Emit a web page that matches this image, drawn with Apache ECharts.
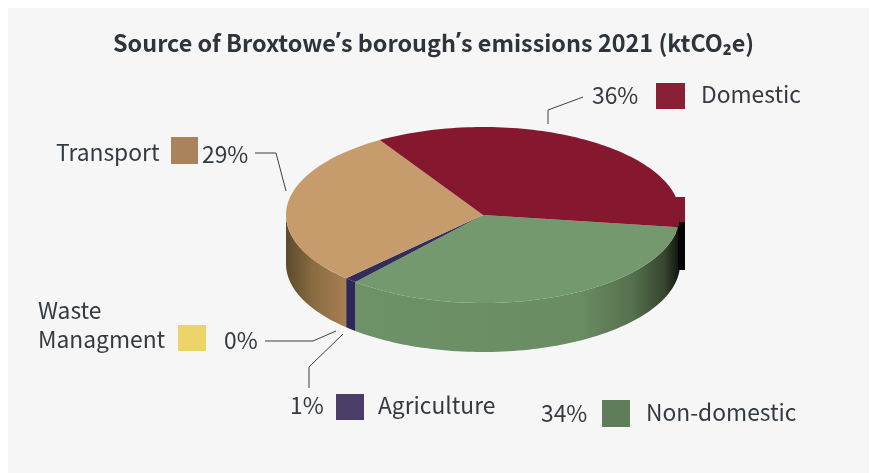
<!DOCTYPE html>
<html>
<head>
<meta charset="utf-8">
<style>
  html, body { margin: 0; padding: 0; background: #ffffff; }
  #chart { width: 871px; height: 473px; }
</style>
<script src="https://cdn.jsdelivr.net/npm/echarts@6/dist/echarts.min.js"></script>
</head>
<body>
<div id="chart"></div>
<script>
// Broxtowe borough emissions by source, 2021 (percent of ktCO2e)
const categories = ['Non-domestic', 'Agriculture', 'Waste Managment', 'Transport', 'Domestic'];
const shares = [34, 1, 0, 29, 36];

const FONT = '"Noto Sans CJK SC", "Noto Sans", sans-serif';
const TEXT = '#343a40';
const PANEL = '#f6f6f6';

// Tilted disc geometry
const disc = { cx: 483, cy: 215, rx: 197, ry: 88, depth: 49, startAngle: 8 };

const topColors = ['#75996f', '#332d5c', '#ecd469', '#c79c6c', '#85172e'];
const swatchColors = ['#5f7d58', '#4a3e68', '#ecd469', '#a8835b', '#8a2035'];
const wallStops = [
  [[0, '#6f9468'], [0.75, '#6a8c63'], [0.88, '#55704d'], [0.96, '#36472f'], [1, '#0f120c']],
  [[0, '#2e2858'], [1, '#2e2858']],
  [[0, '#ecd469'], [1, '#ecd469']],
  [[0, '#5c4a2c'], [0.07, '#8a6c42'], [0.2, '#b78a5c'], [1, '#b78a5c']],
  [[0, '#050505'], [1, '#050505']]
];

const total = shares.reduce((a, b) => a + b, 0);

function sliceAngles(index) {
  const before = shares.slice(0, index).reduce((a, b) => a + b, 0);
  const a0 = disc.startAngle + before / total * 360;
  return [a0, a0 + shares[index] / total * 360];
}

function rimPoint(deg, dy) {
  const t = deg * Math.PI / 180;
  return [disc.cx + disc.rx * Math.cos(t), disc.cy + disc.ry * Math.sin(t) + (dy || 0)];
}

function arcPoints(a0, a1, dy) {
  const pts = [];
  const n = Math.max(2, Math.ceil((a1 - a0) / 1.5));
  for (let i = 0; i <= n; i++) pts.push(rimPoint(a0 + (a1 - a0) * i / n, dy));
  return pts;
}

// Side wall: only the part of the rim that faces the viewer
function renderWall(params, api) {
  const i = params.dataIndex;
  if (!api.value(0)) return null;
  const [a0, a1] = sliceAngles(i);
  const children = [];
  [[0, 180], [360, 540]].forEach(([lo, hi]) => {
    const s = Math.max(a0, lo), e = Math.min(a1, hi);
    if (e <= s) return;
    const points = arcPoints(s, e, 0).concat(arcPoints(s, e, disc.depth).reverse());
    children.push({
      type: 'polygon',
      shape: { points },
      style: {
        fill: new echarts.graphic.LinearGradient(
          disc.cx - disc.rx, 0, disc.cx + disc.rx, 0,
          wallStops[i].map(([offset, color]) => ({ offset, color })), true)
      }
    });
  });
  return { type: 'group', children };
}

// Top face of each slice
function renderTop(params, api) {
  const i = params.dataIndex;
  if (!api.value(0)) return null;
  const [a0, a1] = sliceAngles(i);
  return {
    type: 'polygon',
    shape: { points: [[disc.cx, disc.cy]].concat(arcPoints(a0, a1, 0)) },
    style: { fill: topColors[i] }
  };
}

// Small notch on the far right of the disc, behind the top face
const notch = [
  { type: 'rect', shape: { x: 676, y: 197, width: 9, height: 25 }, style: { fill: '#85172e' }, z: 1 },
  { type: 'rect', shape: { x: 676, y: 222, width: 9, height: 48 }, style: { fill: '#040404' }, z: 1 }
];

const lines = [
  [[548, 124], [548, 110], [583, 97]],
  [[255, 153], [276, 153], [286, 191]],
  [[265, 341], [313, 341], [336, 331]],
  [[309, 388], [309, 367], [343, 334]]
];

function label(text, x, y, align) {
  return {
    type: 'text', z: 10, x, y,
    style: { text, font: '22.8px ' + FONT, fill: TEXT, align: align || 'left', verticalAlign: 'middle' }
  };
}
function swatch(i, x, y, w, h) {
  return { type: 'rect', z: 10, shape: { x, y, width: w, height: h }, style: { fill: swatchColors[i] } };
}
const pct = i => shares[i] + '%';

const annotations = [
  { type: 'rect', z: 0, shape: { x: 8, y: 8, width: 861, height: 465 }, style: { fill: PANEL } },
  ...notch,
  ...lines.map(points => ({
    type: 'polyline', z: 10, shape: { points },
    style: { stroke: '#3a3f44', lineWidth: 1, fill: null }
  })),
  label(pct(4), 592, 95), swatch(4, 656, 83, 29, 26), label(categories[4], 701, 94),
  label(categories[3], 56, 152), swatch(3, 171, 137, 27, 27), label(pct(3), 202, 154),
  label('Waste', 38, 310), label('Managment', 38, 339), swatch(2, 178, 325, 28, 26), label(pct(2), 224, 340),
  label(pct(1), 290, 405), swatch(1, 336, 394, 28, 26), label(categories[1], 378, 405),
  label(pct(0), 541, 413), swatch(0, 602, 400, 28, 27), label(categories[0], 646, 412)
];

const chart = echarts.init(document.getElementById('chart'), null, { renderer: 'canvas' });
const sliceData = categories.map((name, i) => ({ name, value: [shares[i]] }));

const titleStyle = { fontFamily: FONT, fontSize: 23.4, fontWeight: 'bold', color: '#2f343a' };

chart.setOption({
  animation: false,
  backgroundColor: '#ffffff',
  title: {
    text: '{a|Source of Broxtowe}{q|\u2019}{a|s borough}{q|\u2019}{a|s emissions 2021 (ktCO\u2082e)}',
    left: 108, top: 26, z: 20,
    textStyle: {
      rich: {
        a: titleStyle,
        // The apostrophe comes from a Latin font so it keeps a narrow width
        q: { ...titleStyle, fontFamily: '"Noto Sans", sans-serif' }
      }
    }
  },
  graphic: { elements: annotations },
  series: [
    { type: 'custom', coordinateSystem: 'none', renderItem: renderWall, data: sliceData, z: 3, silent: true },
    { type: 'custom', coordinateSystem: 'none', renderItem: renderTop, data: sliceData, z: 4, silent: true }
  ]
});
</script>
</body>
</html>
